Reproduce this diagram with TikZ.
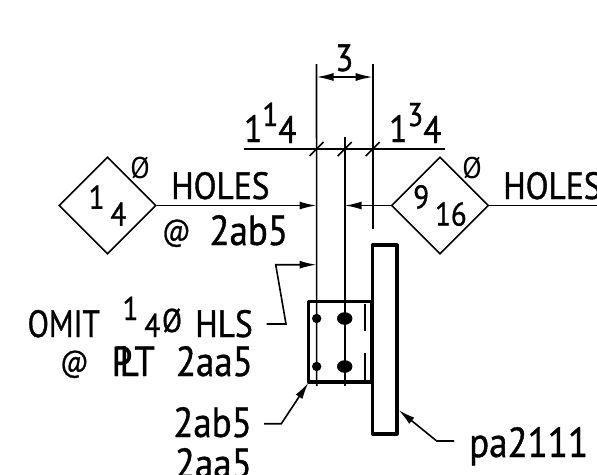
\documentclass[tikz,border=0pt]{standalone}
\usepackage{fontspec}
\setmainfont[FakeStretch=0.88,FakeBold=0.9]{PT Sans}
\newfontfamily\thinfont[FakeStretch=0.95]{PT Sans}
\usetikzlibrary{shapes.geometric,arrows.meta}

\newcommand{\bigtxt}{\fontsize{38}{38}\selectfont}
\newcommand{\lowtxt}{\fontsize{42}{42}\selectfont}
\newcommand{\smltxt}{\fontsize{33}{33}\selectfont}
\newcommand{\stk}[3]{#1\raisebox{16pt}{\smltxt #2}\raisebox{-1pt}{#3}}
\newcommand{\frc}[2]{{\smltxt\raisebox{17pt}{#1}\kern.18em #2}}
\newcommand{\att}{\raisebox{4pt}{\scalebox{.72}{@}}}

\begin{document}
\begin{tikzpicture}[
   x=1pt,y=-1pt,
   lbl/.style={anchor=base west,inner sep=0pt,font=\bigtxt},
   low/.style={anchor=base west,inner sep=0pt,font=\lowtxt},
   lowr/.style={anchor=base east,inner sep=0pt,font=\lowtxt},
   tag/.style={diamond,draw,line width=1.6pt,minimum width=97pt,minimum height=97pt,
    aspect=1,inner sep=0pt,font=\bigtxt},
   dia/.style={inner sep=0pt,font=\fontsize{30}{30}\thinfont},
   ln/.style={line width=1.6pt},
   lead/.style={line width=1.6pt,-{Latex[length=17pt,width=8pt]}},
   hvy/.style={line width=3.2pt,line join=round}
    ]
  \clip (0,0) rectangle (597,474);

  % -- hole tags
  \node[tag] at (107.5,205.5) (tagl) {\frc{1}{4}};
  \node[tag] at (440,205.5) (tagr) {\frc{9}{16}};
  \node[dia] at (140,168) (phil) {Ø};
  \node[dia] at (472,168) (phir) {Ø};

  % -- top dimensions
  \coordinate (ta) at (316.5,64);
  \coordinate (tb) at (372.7,64);
  \coordinate (da) at (316.5,77);
  \coordinate (db) at (372.7,77);
  \coordinate (ba) at (316.7,386);
  \coordinate (bb) at (372.7,229);
  \coordinate (ca) at (344.7,137);
  \coordinate (cb) at (344.7,386);
  \coordinate (ha) at (244,149);
  \coordinate (hb) at (445,149);
  \draw[ln] (ta) -- (ba);
  \draw[ln] (tb) -- (bb);
  \draw[ln] (ca) -- (cb);
  \draw[ln] (ha) -- (hb);
  \draw[ln,{Latex[length=17pt,width=8pt]}-{Latex[length=17pt,width=8pt]}] (da) -- (db);
  \draw[ln] (309.5,156) -- (323.5,142);
  \draw[ln] (337.7,156) -- (351.7,142);
  \draw[ln] (365.7,156) -- (379.7,142);
  \node[lbl] at (335,71) (dimw) {3};
  \node[lbl] at (244,142) (diml) {\stk{1}{1}{4}};
  \node[lbl] at (389,142) (dimr) {\stk{1}{3}{4}};

  % -- hole arrows
  \coordinate (al) at (316.5,205.5);
  \coordinate (ar) at (344.7,205.5);
  \coordinate (rr) at (597,205.5);
  \draw[lead] (tagl.east) -- (al);
  \draw[lead] (tagr.west) -- (ar);
  \draw[ln] (tagr.east) -- (rr);
  \node[lbl] at (171,199) (holl) {HOLES};
  \node[lbl] at (503,199) (holr) {HOLES};
  \node[low] at (162,245) (atl) {\att\hspace{.45em}2ab5};

  % -- plate and angle
  \draw[hvy] (372.7,245) rectangle (397,434);
  \draw[hvy] (308.7,301.7) rectangle (372,382);
  \draw[line width=2.2pt] (364.7,304) -- (364.7,330.7);
  \draw[line width=2.2pt] (364.7,353) -- (364.7,380);
  \fill (316.7,318.5) circle (4.7pt);
  \fill (316.7,366.5) circle (4.7pt);
  \fill (344.7,318.5) ellipse (7.7pt and 6.3pt);
  \fill (344.7,366.5) ellipse (7.7pt and 6.3pt);

  % -- leaders
  \coordinate (o1) at (266.7,324);
  \coordinate (o2) at (286,324);
  \coordinate (o3) at (275.7,264.7);
  \coordinate (o4) at (316.5,264.7);
  \draw[lead] (o1) -- (o2) -- (o3) -- (o4);
  \coordinate (a1) at (264,423.7);
  \coordinate (a2) at (281.3,423.7);
  \coordinate (a3) at (308.5,382.5);
  \draw[lead] (a1) -- (a2) -- (a3);
  \coordinate (p1) at (454,441);
  \coordinate (p2) at (436.7,441);
  \coordinate (p3) at (398.5,410);
  \draw[lead] (p1) -- (p2) -- (p3);

  % -- notes
  \node[lowr] at (253,337) (omit) {\bigtxt\scalebox{.93}[1]{OMIT}\hspace{.6em}\frc{1}{4}\kern.05em\raisebox{5pt}{\smltxt Ø}\hspace{.35em}HLS};
  \node[lowr] at (253,376) (plt) {\att\hspace{.55em}P\kern-.3em LT\hspace{.5em}2aa5};
  \node[lowr] at (252,437) (nab) {2ab5};
  \node[lowr] at (252,478) (naa) {2aa5};
  \node[low] at (469,457) (npa) {pa2111};

\end{tikzpicture}
\end{document}
